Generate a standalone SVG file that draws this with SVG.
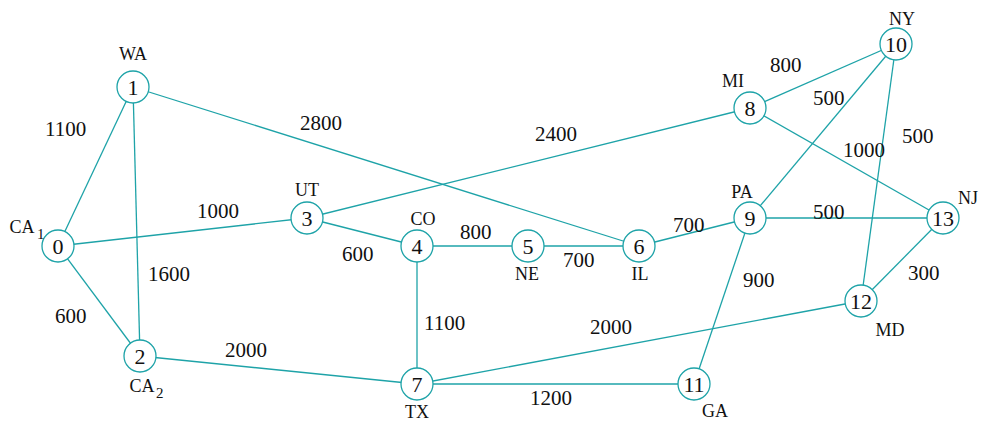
<svg xmlns="http://www.w3.org/2000/svg" width="981" height="422" viewBox="0 0 981 422">
<style>
.e{stroke:#1ea3a8;stroke-width:1.3;fill:none}
.n circle{fill:#fff;stroke:#1ea3a8;stroke-width:1.3}
.n text{font-family:"Liberation Serif","Times New Roman",serif;font-size:22px;fill:#111;text-anchor:middle}
.s{font-family:"Liberation Serif","Times New Roman",serif;font-size:18px;fill:#111;text-anchor:middle}
.sub{font-family:"Liberation Serif","Times New Roman",serif;font-size:15px;fill:#111}
.w{font-family:"Liberation Serif","Times New Roman",serif;font-size:21px;fill:#111}
</style>
<rect width="981" height="422" fill="#fff"/>
<g id="connectors">
<line class="e" x1="58" y1="246" x2="133" y2="87"/>
<line class="e" x1="58" y1="246" x2="140" y2="356"/>
<line class="e" x1="58" y1="246" x2="307" y2="218"/>
<line class="e" x1="133" y1="87" x2="140" y2="356"/>
<line class="e" x1="133" y1="87" x2="639" y2="246"/>
<line class="e" x1="140" y1="356" x2="417" y2="384"/>
<line class="e" x1="307" y1="218" x2="417" y2="246"/>
<line class="e" x1="307" y1="218" x2="750" y2="108"/>
<line class="e" x1="417" y1="246" x2="528" y2="246"/>
<line class="e" x1="417" y1="246" x2="417" y2="384"/>
<line class="e" x1="528" y1="246" x2="639" y2="246"/>
<line class="e" x1="639" y1="246" x2="750" y2="218"/>
<line class="e" x1="417" y1="384" x2="694" y2="384"/>
<line class="e" x1="417" y1="384" x2="861" y2="301"/>
<line class="e" x1="750" y1="108" x2="896" y2="44"/>
<line class="e" x1="750" y1="108" x2="943" y2="218"/>
<line class="e" x1="750" y1="218" x2="896" y2="44"/>
<line class="e" x1="750" y1="218" x2="943" y2="218"/>
<line class="e" x1="750" y1="218" x2="694" y2="384"/>
<line class="e" x1="896" y1="44" x2="861" y2="301"/>
<line class="e" x1="861" y1="301" x2="943" y2="218"/>
</g>
<g id="weights">
<text class="w" x="45" y="136">1100</text>
<text class="w" x="148" y="281">1600</text>
<text class="w" x="55" y="323">600</text>
<text class="w" x="300" y="130">2800</text>
<text class="w" x="535" y="141">2400</text>
<text class="w" x="197" y="218">1000</text>
<text class="w" x="342" y="261">600</text>
<text class="w" x="460" y="239">800</text>
<text class="w" x="563" y="267">700</text>
<text class="w" x="673" y="232">700</text>
<text class="w" x="813" y="219">500</text>
<text class="w" x="743" y="287">900</text>
<text class="w" x="424" y="330">1100</text>
<text class="w" x="225" y="357">2000</text>
<text class="w" x="590" y="334">2000</text>
<text class="w" x="530" y="405">1200</text>
<text class="w" x="908" y="280">300</text>
<text class="w" x="770" y="72">800</text>
<text class="w" x="813" y="105">500</text>
<text class="w" x="843" y="157">1000</text>
<text class="w" x="902" y="143">500</text>
</g>
<g id="node0" class="n"><circle cx="58" cy="246" r="16"/><text x="58" y="254">0</text></g>
<g id="node1" class="n"><circle cx="133" cy="87" r="16"/><text x="133" y="95">1</text></g>
<g id="node2" class="n"><circle cx="140" cy="356" r="16"/><text x="140" y="364">2</text></g>
<g id="node3" class="n"><circle cx="307" cy="218" r="16"/><text x="307" y="226">3</text></g>
<g id="node4" class="n"><circle cx="417" cy="246" r="16"/><text x="417" y="254">4</text></g>
<g id="node5" class="n"><circle cx="528" cy="246" r="16"/><text x="528" y="254">5</text></g>
<g id="node6" class="n"><circle cx="639" cy="246" r="16"/><text x="639" y="254">6</text></g>
<g id="node7" class="n"><circle cx="417" cy="384" r="16"/><text x="417" y="392">7</text></g>
<g id="node8" class="n"><circle cx="750" cy="108" r="16"/><text x="750" y="116">8</text></g>
<g id="node9" class="n"><circle cx="750" cy="218" r="16"/><text x="750" y="226">9</text></g>
<g id="node10" class="n"><circle cx="896" cy="44" r="16"/><text x="896" y="52">10</text></g>
<g id="node11" class="n"><circle cx="694" cy="384" r="16"/><text x="694" y="392">11</text></g>
<g id="node12" class="n"><circle cx="861" cy="301" r="16"/><text x="861" y="309">12</text></g>
<g id="node13" class="n"><circle cx="943" cy="218" r="16"/><text x="943" y="226">13</text></g>
<g id="labels">
<text class="s" x="22" y="233">CA</text><text class="sub" x="37" y="239">1</text>
<text class="s" x="142" y="392">CA</text><text class="sub" x="156" y="398">2</text>
<text class="s" x="133" y="60">WA</text>
<text class="s" x="307" y="196">UT</text>
<text class="s" x="423" y="225">CO</text>
<text class="s" x="527" y="280">NE</text>
<text class="s" x="640" y="280">IL</text>
<text class="s" x="417" y="418">TX</text>
<text class="s" x="715" y="417">GA</text>
<text class="s" x="890" y="336">MD</text>
<text class="s" x="733" y="87">MI</text>
<text class="s" x="742" y="198">PA</text>
<text class="s" x="902" y="25">NY</text>
<text class="s" x="968" y="204">NJ</text>
</g>
</svg>
